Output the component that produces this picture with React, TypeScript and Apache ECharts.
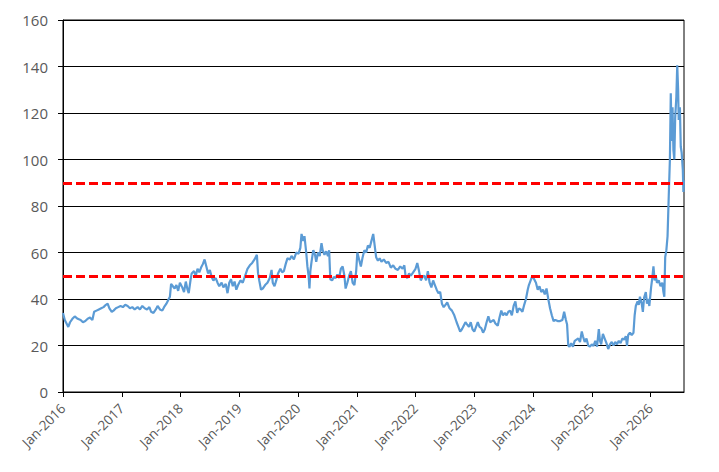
import React, { useEffect, useRef } from "react";
import * as echarts from "echarts";

const years: number[] = [
  2016.00, 2016.03, 2016.06, 2016.09, 2016.12, 2016.16, 2016.20, 2016.25, 2016.30, 2016.34,
  2016.38, 2016.42, 2016.46, 2016.50, 2016.53, 2016.57, 2016.61, 2016.65, 2016.69, 2016.73,
  2016.76, 2016.79, 2016.83, 2016.86, 2016.90, 2016.94, 2016.98, 2017.02, 2017.06, 2017.10,
  2017.14, 2017.18, 2017.22, 2017.27, 2017.31, 2017.35, 2017.39, 2017.43, 2017.47, 2017.50,
  2017.54, 2017.58, 2017.61, 2017.65, 2017.69, 2017.72, 2017.76, 2017.80, 2017.82, 2017.84,
  2017.87, 2017.90, 2017.93, 2017.96, 2017.99, 2018.03, 2018.06, 2018.09, 2018.12, 2018.14,
  2018.17, 2018.19, 2018.23, 2018.26, 2018.29, 2018.32, 2018.35, 2018.38, 2018.41, 2018.44,
  2018.47, 2018.50, 2018.53, 2018.56, 2018.60, 2018.63, 2018.66, 2018.70, 2018.73, 2018.77,
  2018.80, 2018.83, 2018.86, 2018.89, 2018.92, 2018.95, 2018.98, 2019.02, 2019.06, 2019.10,
  2019.14, 2019.18, 2019.22, 2019.26, 2019.30, 2019.32, 2019.34, 2019.37, 2019.40, 2019.44,
  2019.48, 2019.52, 2019.55, 2019.57, 2019.60, 2019.63, 2019.66, 2019.70, 2019.73, 2019.76,
  2019.79, 2019.82, 2019.86, 2019.89, 2019.93, 2019.97, 2020.01, 2020.04, 2020.06, 2020.09,
  2020.11, 2020.14, 2020.16, 2020.18, 2020.195, 2020.21, 2020.23, 2020.26, 2020.29, 2020.31,
  2020.34, 2020.37, 2020.40, 2020.42, 2020.45, 2020.48, 2020.51, 2020.53, 2020.55, 2020.58,
  2020.61, 2020.64, 2020.67, 2020.70, 2020.73, 2020.76, 2020.79, 2020.81, 2020.84, 2020.87,
  2020.90, 2020.93, 2020.96, 2020.99, 2021.01, 2021.04, 2021.07, 2021.10, 2021.13, 2021.16,
  2021.19, 2021.22, 2021.25, 2021.28, 2021.30, 2021.33, 2021.36, 2021.39, 2021.42, 2021.46,
  2021.50, 2021.54, 2021.58, 2021.62, 2021.66, 2021.70, 2021.74, 2021.78, 2021.81, 2021.83,
  2021.86, 2021.89, 2021.92, 2021.96, 2022.00, 2022.03, 2022.06, 2022.09, 2022.12, 2022.15,
  2022.18, 2022.21, 2022.24, 2022.27, 2022.30, 2022.33, 2022.36, 2022.39, 2022.42, 2022.45,
  2022.48, 2022.51, 2022.54, 2022.58, 2022.62, 2022.66, 2022.70, 2022.73, 2022.76, 2022.79,
  2022.82, 2022.85, 2022.88, 2022.91, 2022.94, 2022.97, 2023.00, 2023.03, 2023.06, 2023.09,
  2023.12, 2023.15, 2023.18, 2023.21, 2023.24, 2023.27, 2023.30, 2023.33, 2023.36, 2023.40,
  2023.43, 2023.46, 2023.49, 2023.52, 2023.55, 2023.58, 2023.61, 2023.64, 2023.67, 2023.70,
  2023.73, 2023.76, 2023.79, 2023.82, 2023.85, 2023.88, 2023.91, 2023.93, 2023.96, 2023.99,
  2024.02, 2024.05, 2024.08, 2024.11, 2024.14, 2024.17, 2024.20, 2024.23, 2024.26, 2024.29,
  2024.32, 2024.35, 2024.38, 2024.42, 2024.46, 2024.50, 2024.53, 2024.56, 2024.58, 2024.60,
  2024.62, 2024.65, 2024.68, 2024.71, 2024.74, 2024.77, 2024.80, 2024.83, 2024.85, 2024.88,
  2024.91, 2024.94, 2024.97, 2025.00, 2025.03, 2025.06, 2025.09, 2025.12, 2025.14, 2025.16,
  2025.19, 2025.22, 2025.25, 2025.28, 2025.31, 2025.34, 2025.37, 2025.40, 2025.43, 2025.46,
  2025.49, 2025.52, 2025.55, 2025.58, 2025.60, 2025.62, 2025.65, 2025.68, 2025.71, 2025.73,
  2025.75, 2025.78, 2025.80, 2025.82, 2025.85, 2025.87, 2025.89, 2025.92, 2025.94, 2025.96,
  2025.98, 2026.01, 2026.03, 2026.05, 2026.07, 2026.09, 2026.11, 2026.14, 2026.17, 2026.20,
  2026.22, 2026.235, 2026.25, 2026.27, 2026.29, 2026.31, 2026.33, 2026.345, 2026.36, 2026.375,
  2026.39, 2026.405, 2026.42, 2026.44, 2026.455, 2026.47, 2026.48, 2026.50, 2026.515, 2026.53,
  2026.55, 2026.56, 2026.57,
];

const values: number[] = [
  34, 31, 29.5, 28, 30, 31.5, 32.5, 31.5, 31, 30,
  30.5, 31.5, 32, 31, 34.5, 35, 35.5, 36, 36.5, 37.5,
  38, 36, 34.5, 35, 36, 36.5, 37, 36.5, 37.5, 37,
  36, 36.5, 35.5, 36.5, 35.5, 37, 36, 35.5, 36.5, 34.5,
  34, 35.5, 37, 35.5, 35, 36.5, 38, 40, 41, 46.5,
  45.5, 44.5, 46, 43.5, 47, 45, 43, 47.5, 44, 42.5,
  48, 51, 52, 50, 53, 51.5, 53.5, 55, 57, 54,
  51, 52.5, 49.5, 48, 49, 47, 45.5, 47, 45, 46.5,
  42.5, 47, 48.5, 45.5, 47.5, 44, 46, 48, 47, 50,
  53, 54.5, 55.5, 57, 59, 51, 48, 44, 44.5, 46,
  47, 49, 52.5, 47, 45.5, 48, 51, 53, 51.5, 52,
  55, 57.5, 57, 58.5, 57, 60, 59.5, 62, 68, 65,
  67, 60, 54, 50, 44.5, 52, 56, 61, 59, 56,
  60, 58.5, 64, 61, 59, 60.5, 58.5, 61, 48.5, 48,
  49.5, 49, 50.5, 49, 53, 54, 50, 44.5, 47, 50,
  52, 47, 46, 52, 60, 57, 54, 58, 61, 60,
  63, 62, 65, 68, 64, 58, 56.5, 57.5, 56, 57,
  55.5, 56, 53.5, 54.5, 53, 52.5, 54, 53, 54.5, 50,
  49, 51, 50, 51.5, 53, 55.5, 52, 48, 49.5, 50,
  48, 52, 47, 45, 48, 46, 44, 42.5, 43, 38,
  36.5, 37.5, 38.5, 36, 35, 33, 30, 28, 26, 27,
  28.5, 30, 29, 28, 30, 27, 26, 28, 30, 28,
  27.5, 25.5, 27, 30, 32.5, 30, 30.5, 31, 29.5, 28.5,
  32, 35, 33, 34, 33, 34.5, 35, 33, 37, 39,
  34, 36, 35.5, 34.5, 37.5, 40, 44, 46, 48, 50,
  48.5, 47, 44, 45.5, 43, 44, 42, 44.5, 40, 36,
  33, 30.5, 31, 30.5, 30.5, 31, 34.5, 31, 29, 20,
  19.5, 21, 19.5, 22, 22.5, 23, 21.5, 26, 24, 21.5,
  23, 20, 19.5, 20.5, 19.8, 22, 19.5, 27, 22, 20.5,
  25, 23, 21, 18.5, 20.5, 21.5, 20, 21.5, 20.5, 22,
  21, 23, 22.5, 24, 19.8, 24.5, 25.5, 24.5, 25.5, 33,
  37, 39, 37.5, 41, 38, 34.5, 40.5, 43, 38, 40,
  37, 45, 49, 54, 48, 50, 47, 48, 45.5, 47,
  43, 41, 58, 61, 67, 84, 100, 128.5, 108, 122.5,
  104, 100, 118, 127, 140.5, 130, 117, 122.5, 105.5, 103,
  95.5, 86, 91,
];

const yearTicks: number[] = [2016, 2017, 2018, 2019, 2020, 2021, 2022, 2023, 2024, 2025, 2026];
const thresholds: number[] = [50, 90];
const xMin = 2016;
const xMax = 2026.57;

export default function App() {
  const ref = useRef<HTMLDivElement>(null);
  useEffect(() => {
    if (!ref.current) return;
    const chart = echarts.init(ref.current, undefined, { renderer: "svg" });
    const data = years.map((y, i) => [y, values[i]]);
    chart.setOption({
      animation: false,
      backgroundColor: "#ffffff",
      grid: {
        left: 63,
        right: 35,
        top: 20,
        bottom: 80,
        show: true,
        borderColor: "#000000",
        borderWidth: 1,
        backgroundColor: "transparent",
      },
      xAxis: {
        type: "value",
        min: xMin,
        max: xMax,
        axisLine: { show: true, lineStyle: { color: "#000000", width: 1 } },
        axisTick: {
          show: true,
          length: 5,
          lineStyle: { color: "#000000" },
          customValues: yearTicks,
        },
        splitLine: { show: false },
        axisLabel: {
          customValues: yearTicks,
          rotate: 45,
          margin: 14,
          color: "#595959",
          fontSize: 13.5,
          fontFamily: "Open Sans",
          formatter: (v: number) => "Jan-" + Math.round(v),
        },
      },
      yAxis: {
        type: "value",
        min: 0,
        max: 160,
        interval: 20,
        axisLine: { show: true, lineStyle: { color: "#000000", width: 1 } },
        axisTick: { show: true, length: 5, lineStyle: { color: "#000000" } },
        splitLine: { show: true, lineStyle: { color: "#000000", width: 1 } },
        axisLabel: {
          margin: 15,
          color: "#595959",
          fontSize: 15,
          fontFamily: "Open Sans",
        },
      },
      series: [
        {
          type: "line",
          data,
          showSymbol: false,
          symbol: "none",
          lineStyle: { color: "#5B9BD5", width: 2.2 },
          z: 3,
          markLine: {
            silent: true,
            symbol: "none",
            label: { show: false },
            lineStyle: { color: "#FF0000", width: 3, type: [9, 4] },
            data: thresholds.map((t) => ({ yAxis: t })),
            z: 4,
          },
        },
      ],
    });
    return () => chart.dispose();
  }, []);
  return (
    <div
      ref={ref}
      style={{ position: "fixed", left: 0, top: 0, width: 719, height: 472, background: "#fff" }}
    />
  );
}
